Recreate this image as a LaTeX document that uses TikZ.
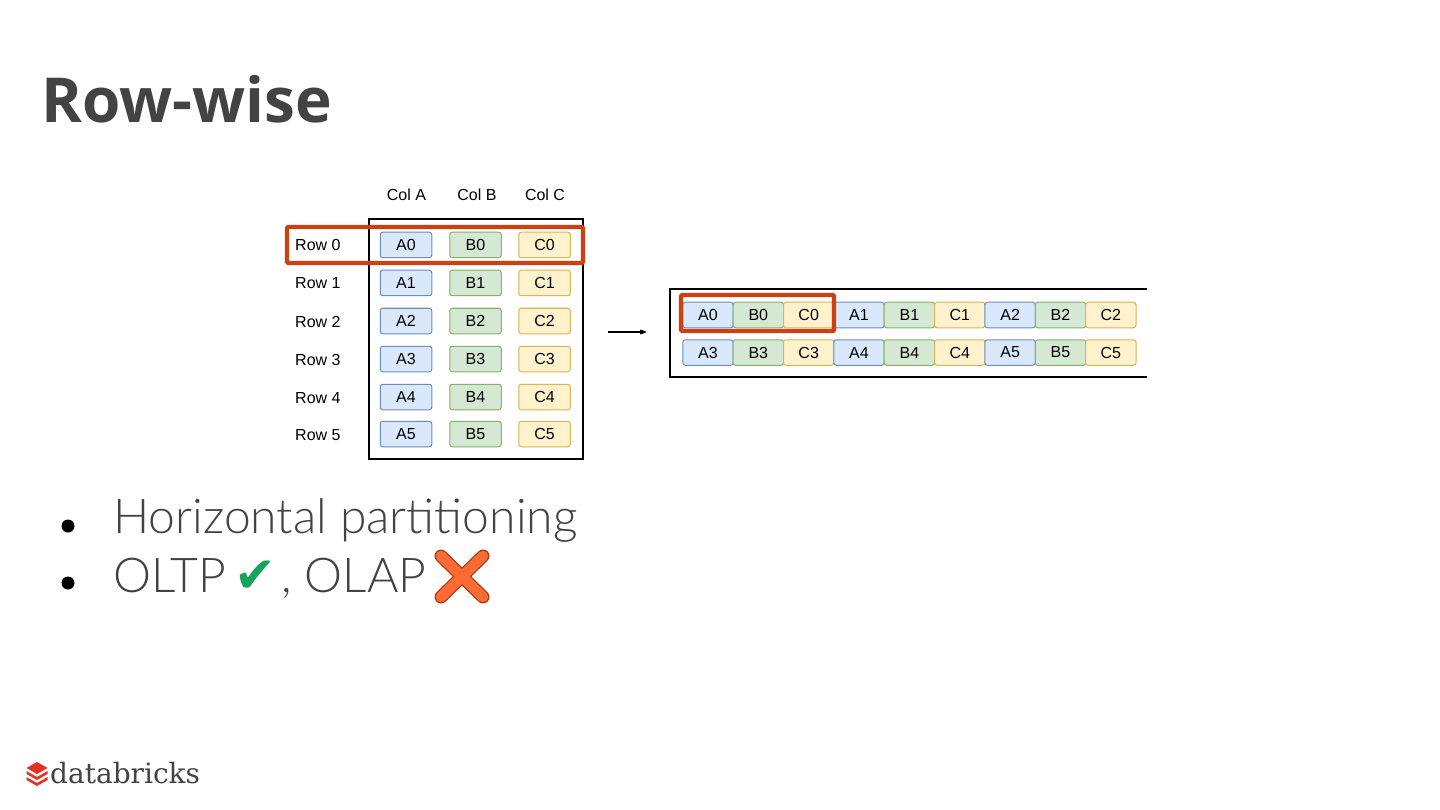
\documentclass[tikz,border=0pt]{standalone}
\usepackage{fontspec}
\setmainfont{Liberation Sans}
\newfontfamily\titlefont{Open Sans}
\newfontfamily\bodyfont{Lato Light}
\newfontfamily\logofont{DejaVu Serif}
\newfontfamily\symbfont{DejaVu Sans}
\usetikzlibrary{arrows.meta,positioning,calc}
\definecolor{inkcolor}{RGB}{67,67,67}
\definecolor{redcolor}{RGB}{204,65,20}
\definecolor{acolor}{RGB}{218,232,252}
\definecolor{aline}{RGB}{108,142,191}
\definecolor{bcolor}{RGB}{213,232,212}
\definecolor{bline}{RGB}{130,179,102}
\definecolor{ccolor}{RGB}{255,242,204}
\definecolor{cline}{RGB}{214,182,86}
\definecolor{tickcolor}{RGB}{22,163,90}
\definecolor{logocolor}{RGB}{226,50,38}

\begin{document}
\begin{tikzpicture}[
    x=1pt, y=-1pt,
    >={Stealth[round]},
    cell/.style={draw=#1line, fill=#1color, line width=1pt, rounded corners=2.5pt,
       minimum width=51.5pt, minimum height=25.5pt, inner sep=0pt, font=\fontsize{16}{16}\selectfont},
    flatcell/.style={cell=#1, minimum width=50.4pt},
    rowlbl/.style={font=\fontsize{16}{16}\selectfont, anchor=base west, inner sep=0pt},
    collbl/.style={font=\fontsize{16}{16}\selectfont, inner sep=0pt},
    frame/.style={draw=black, line width=1.2pt},
    mark box/.style={draw=redcolor, line width=4.2pt, rounded corners=1pt},
    bullet/.style={circle, fill=black, minimum size=13pt, inner sep=0pt},
    bodytext/.style={font=\bodyfont\fontsize{48}{48}\selectfont, text=inkcolor, anchor=base west, inner sep=0pt}
  ]
    \useasboundingbox (0,0) rectangle (1440,810);
    \fill[white] (0,0) rectangle (1440,810);

    % Title
    \node[font=\titlefont\bfseries\fontsize{62}{62}\selectfont, text=inkcolor, anchor=base west, inner sep=0pt]
       (title) at (41,123) {Row-wise};

    % Table
    \node[frame, minimum width=214pt, minimum height=240pt, inner sep=0pt] (tablebox) at (476,339) {};
    \node[collbl] (colA) at (406.5,195) {Col A};
    \node[collbl] (colB) at (477,195) {Col B};
    \node[collbl] (colC) at (545,195) {Col C};
    \foreach \i/\y in {0/245,1/283,2/321,3/359,4/397,5/434} {
      \node[rowlbl] (row\i) at (295,\y+6) {Row \i};
      \node[cell=a] (a\i) at (406,\y) {A\i};
      \node[cell=b] (b\i) at (475.5,\y) {B\i};
      \node[cell=c] (c\i) at (544.5,\y) {C\i};
    }
    \node[mark box, minimum width=296pt, minimum height=36pt, inner sep=0pt] (rowmark) at (435,245) {};

    % Arrow to the stored layout
    \coordinate (arrowstart) at (608,332);
    \coordinate (arrowend) at (646,332);
    \draw[->, line width=1.2pt] (arrowstart) -- (arrowend);

    % Stored layout (open on the right)
    \coordinate (storeNE) at (1147,289);
    \coordinate (storeNW) at (670,289);
    \coordinate (storeSW) at (670,377);
    \coordinate (storeSE) at (1147,377);
    \draw[frame] (storeNE) -- (storeNW) -- (storeSW) -- (storeSE);
    \foreach \n/\s/\x in {a/a0/708,b/b0/758.3,c/c0/808.7,a/a1/859,b/b1/909.4,c/c1/959.8,a/a2/1010.1,b/b2/1060.5,c/c2/1110.8} {
      \node[flatcell=\n] (s\s) at (\x,315) {\MakeUppercase{\s}};
    }
    \foreach \n/\s/\x in {a/a3/708,b/b3/758.3,c/c3/808.7,a/a4/859,b/b4/909.4,c/c4/959.8,a/a5/1010.1,b/b5/1060.5,c/c5/1110.8} {
      \node[flatcell=\n] (s\s) at (\x,352.5) {\MakeUppercase{\s}};
    }
    \node[mark box, minimum width=153pt, minimum height=36pt, inner sep=0pt] (storemark) at (757.5,313) {};

    % Bullets
    \node[bullet] (dot1) at (68,526) {};
    \node[bullet] (dot2) at (68,583) {};
    \node[bodytext] (line1) at (113,533) {Horizontal partitioning};
    \node[bodytext] (oltp) at (113,592) {OLTP};
    \node[font=\symbfont\fontsize{50}{50}\selectfont, text=tickcolor, anchor=base west, inner sep=0pt]
       (tick) at (234,592) {✔};
    \node[bodytext] (olap) at (281,592) {, OLAP};
    \draw[draw=redcolor!85!black, line width=13pt, line cap=round] (441,556) -- (483,597) (483,556) -- (441,597);
    \draw[draw=orange!55!red!80!white, line width=10.5pt, line cap=round] (441,556) -- (483,597) (483,556) -- (441,597);

    % Logo
    \fill[logocolor] (37,762) -- (47.5,768) -- (37,774) -- (26.5,768) -- cycle;
    \fill[logocolor] (26.5,771) -- (37,777) -- (47.5,771) -- (47.5,774) -- (37,780) -- (26.5,774) -- cycle;
    \fill[logocolor] (26.5,777) -- (37,783) -- (47.5,777) -- (47.5,780) -- (37,786) -- (26.5,780) -- cycle;
    \node[font=\logofont\fontsize{28}{28}\selectfont, text=inkcolor, anchor=base west, inner sep=0pt]
       (logo) at (50,783) {databricks};
  \end{tikzpicture}
\end{document}
